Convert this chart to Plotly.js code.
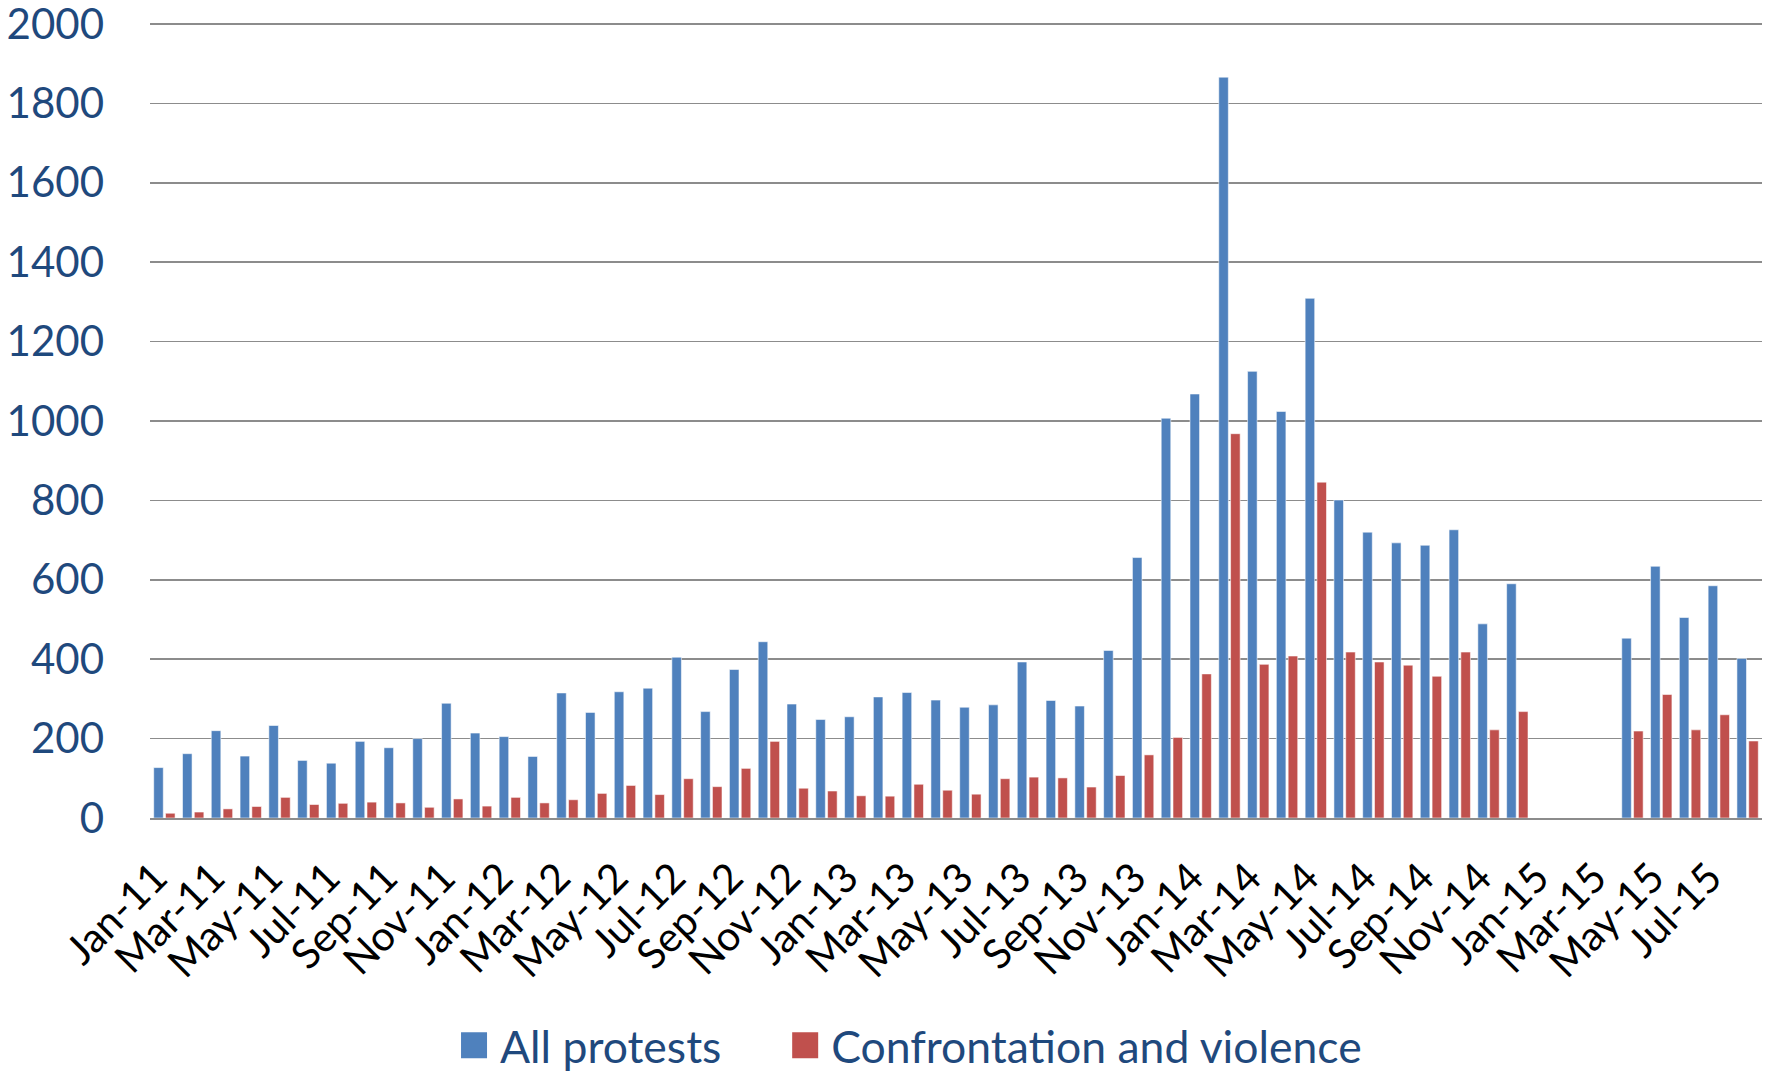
<!DOCTYPE html>
<html>
<head>
<meta charset="utf-8">
<script src="https://cdn.plot.ly/plotly-3.0.1.min.js"></script>
<style>
  html, body { margin: 0; padding: 0; background: #ffffff; }
  #chart { width: 1768px; height: 1071px; }
</style>
</head>
<body>
<div id="chart"></div>
<script>
// Monthly protest counts, January 2011 to August 2015
const months = [
  'Jan-11','Feb-11','Mar-11','Apr-11','May-11','Jun-11','Jul-11','Aug-11','Sep-11','Oct-11','Nov-11','Dec-11',
  'Jan-12','Feb-12','Mar-12','Apr-12','May-12','Jun-12','Jul-12','Aug-12','Sep-12','Oct-12','Nov-12','Dec-12',
  'Jan-13','Feb-13','Mar-13','Apr-13','May-13','Jun-13','Jul-13','Aug-13','Sep-13','Oct-13','Nov-13','Dec-13',
  'Jan-14','Feb-14','Mar-14','Apr-14','May-14','Jun-14','Jul-14','Aug-14','Sep-14','Oct-14','Nov-14','Dec-14',
  'Jan-15','Feb-15','Mar-15','Apr-15','May-15','Jun-15','Jul-15','Aug-15'
];

const allProtests = [
  127, 162, 220, 156, 233, 145, 138, 193, 177, 200, 289, 214,
  205, 155, 315, 266, 318, 327, 405, 268, 374, 444, 287, 248,
  255, 305, 316, 297, 279, 285, 393, 296, 282, 422, 656, 1007,
  1068, 1866, 1125, 1024, 1309, 801, 720, 693, 687, 726, 489, 590,
  null, null, null, 453, 634, 505, 585, 402
];

const confrontation = [
  12, 15, 23, 29, 52, 34, 37, 40, 38, 27, 48, 30,
  52, 38, 46, 62, 82, 59, 99, 79, 125, 193, 75, 68,
  56, 55, 85, 70, 60, 99, 103, 101, 78, 107, 159, 203,
  363, 968, 387, 408, 846, 418, 393, 385, 357, 418, 222, 268,
  null, null, null, 219, 311, 222, 260, 194
];

const seriesNames = ['All protests', 'Confrontation and violence'];
const yTicks = [0, 200, 400, 600, 800, 1000, 1200, 1400, 1600, 1800, 2000];

// every second month carries a label
const xTickLabels = months.filter((m, i) => i % 2 === 0);

const navy = '#1F497D';
const gridGray = '#8C8C8C';
const sans = 'Lato, Carlito, "Open Sans", sans-serif';

const traces = [
  {
    type: 'bar',
    name: seriesNames[0],
    x: months,
    y: allProtests,
    legend: 'legend',
    marker: { color: '#4F81BD', line: { color: 'rgba(255,255,255,0.55)', width: 1 } },
    hoverinfo: 'x+y+name'
  },
  {
    type: 'bar',
    name: seriesNames[1],
    x: months,
    y: confrontation,
    legend: 'legend2',
    marker: { color: '#C0504D', line: { color: 'rgba(255,255,255,0.55)', width: 1 } },
    hoverinfo: 'x+y+name'
  }
];

const legendStyle = {
  orientation: 'h',
  xref: 'container',
  yref: 'container',
  xanchor: 'left',
  yanchor: 'middle',
  y: 0.024,
  font: { family: sans, size: 44.5, color: navy },
  bgcolor: 'rgba(0,0,0,0)',
  borderwidth: 0
};

const layout = {
  width: 1768,
  height: 1071,
  paper_bgcolor: '#ffffff',
  plot_bgcolor: '#ffffff',
  margin: { l: 150, r: 6, t: 20, b: 253, autoexpand: false },
  barmode: 'group',
  bargap: 0.18,
  bargroupgap: 0.19,
  showlegend: true,
  legend: Object.assign({}, legendStyle, { x: 0.2602 }),
  legend2: Object.assign({}, legendStyle, { x: 0.4475 }),
  xaxis: {
    type: 'category',
    categoryorder: 'array',
    categoryarray: months,
    range: [-0.5, months.length - 0.5],
    tickmode: 'array',
    tickvals: xTickLabels,
    ticktext: xTickLabels,
    tickangle: -45,
    ticks: '',
    ticklabelstandoff: 17,
    ticklabelshift: -9,
    tickfont: { family: sans, size: 41, color: '#000000' },
    automargin: false,
    showgrid: false,
    showline: true,
    linecolor: gridGray,
    linewidth: 2,
    zeroline: false,
    fixedrange: true
  },
  yaxis: {
    range: [0, 2010],
    tickmode: 'array',
    tickvals: yTicks,
    ticktext: yTicks.map(String),
    ticks: '',
    ticklabelstandoff: 45,
    ticklabeloverflow: 'allow',
    tickfont: { family: sans, size: 42, color: navy },
    automargin: false,
    showgrid: true,
    gridcolor: gridGray,
    gridwidth: 1.5,
    zeroline: false,
    showline: false,
    fixedrange: true
  }
};

Plotly.newPlot('chart', traces, layout, { displayModeBar: false, staticPlot: true }).then(function () {
  // square legend swatches, set a little left of the label
  document.querySelectorAll('.legendpoints path').forEach(function (p) {
    p.setAttribute('d', 'M7,13H-19V-13H7Z');
    p.style.strokeWidth = '0px';
  });
});
</script>
</body>
</html>
